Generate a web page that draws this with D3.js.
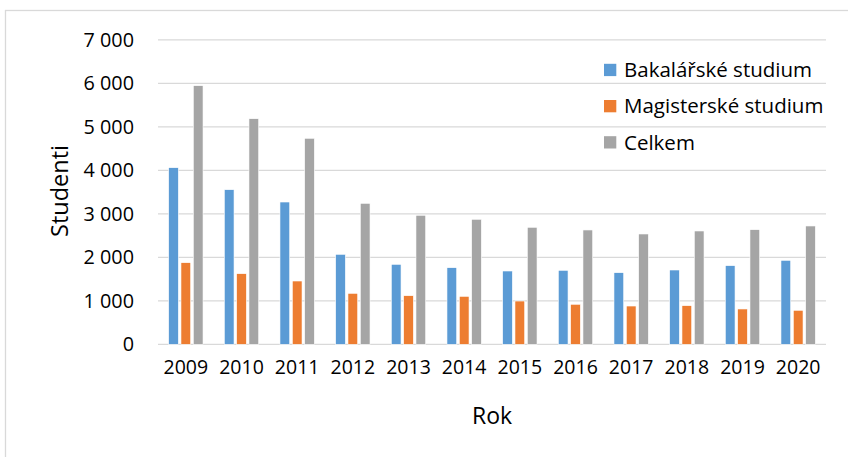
<!DOCTYPE html>
<html>
<head>
<meta charset="utf-8">
<script src="https://cdn.jsdelivr.net/npm/d3@7"></script>
<style>
  html, body { margin: 0; padding: 0; background: #fff; }
  svg { display: block; }
  text { font-family: "Open Sans", "Noto Sans", sans-serif; fill: #000; }
</style>
</head>
<body>
<svg id="chart" width="848" height="457"></svg>
<script>
// Počty studentů podle typu studia
const years = ["2009", "2010", "2011", "2012", "2013", "2014", "2015", "2016", "2017", "2018", "2019", "2020"];
const bakalarske = [4060, 3554, 3271, 2069, 1839, 1761, 1685, 1701, 1646, 1708, 1808, 1931];
const magisterske = [1876, 1623, 1455, 1172, 1117, 1103, 995, 920, 880, 888, 812, 782];
const celkem = [5945, 5186, 4736, 3241, 2966, 2874, 2690, 2628, 2536, 2605, 2635, 2720];
const seriesNames = ["Bakalářské studium", "Magisterské studium", "Celkem"];
const seriesColors = ["#5B9BD5", "#ED7D31", "#A5A5A5"];
const yTicks = [0, 1000, 2000, 3000, 4000, 5000, 6000, 7000];

const seriesValues = [bakalarske, magisterske, celkem];

const svg = d3.select("#chart");

// rámeček oblasti grafu
svg.append("rect")
  .attr("x", 5.5).attr("y", 10.5)
  .attr("width", 900).attr("height", 500)
  .attr("fill", "none").attr("stroke", "#D9D9D9").attr("stroke-width", 1.3);

const plot = { left: 158, right: 826, top: 39.8, bottom: 344.3 };

const x0 = d3.scaleBand()
  .domain(years)
  .range([plot.left, plot.right])
  .paddingInner(0.382)
  .paddingOuter(0.191);

const x1 = d3.scaleBand()
  .domain(seriesNames)
  .range([0, x0.bandwidth()])
  .paddingInner(0.21)
  .paddingOuter(0);

const y = d3.scaleLinear()
  .domain([0, 7000])
  .range([plot.bottom, plot.top]);

const fmt = d3.formatLocale({ decimal: ",", thousands: "\u00a0", grouping: [3], currency: ["", ""] }).format(",d");

// mřížka
svg.append("g")
  .selectAll("line")
  .data(yTicks)
  .join("line")
  .attr("x1", plot.left).attr("x2", plot.right)
  .attr("y1", d => y(d)).attr("y2", d => y(d))
  .attr("stroke", "#D9D9D9").attr("stroke-width", 1.3);

// osa Y
const yAxis = svg.append("g")
  .attr("transform", `translate(${plot.left},0)`)
  .call(d3.axisLeft(y).tickValues(yTicks).tickFormat(fmt).tickSize(0).tickPadding(24));
yAxis.select(".domain").remove();
yAxis.selectAll("text")
  .style("font-family", "'Open Sans', sans-serif")
  .style("font-size", "19.8px")
  .attr("fill", "#000");

// sloupce
const groups = svg.append("g")
  .selectAll("g")
  .data(years)
  .join("g")
  .attr("transform", d => `translate(${x0(d)},0)`);

groups.selectAll("rect")
  .data((d, i) => seriesNames.map((name, s) => ({ name, value: seriesValues[s][i], color: seriesColors[s] })))
  .join("rect")
  .attr("x", d => x1(d.name))
  .attr("width", x1.bandwidth())
  .attr("y", d => y(d.value))
  .attr("height", d => y(0) - y(d.value))
  .attr("fill", d => d.color)
  .attr("stroke", "#fff")
  .attr("stroke-width", 0.6);

// osa X
const xAxis = svg.append("g")
  .attr("transform", `translate(0,${plot.bottom})`)
  .call(d3.axisBottom(x0).tickSize(0).tickPadding(16));
xAxis.select(".domain").remove();
xAxis.selectAll("text")
  .style("font-family", "'Open Sans', sans-serif")
  .style("font-size", "19.5px")
  .attr("fill", "#000");

// názvy os
svg.append("text")
  .attr("x", (plot.left + plot.right) / 2)
  .attr("y", 423.5)
  .attr("text-anchor", "middle")
  .style("font-size", "23px")
  .text("Rok");

svg.append("text")
  .attr("transform", `translate(68,191) rotate(-90)`)
  .attr("text-anchor", "middle")
  .style("font-size", "23.5px")
  .text("Studenti");

// legenda
const legend = svg.append("g")
  .selectAll("g")
  .data(seriesNames)
  .join("g")
  .attr("transform", (d, i) => `translate(604,${70 + i * 36.2})`);

legend.append("rect")
  .attr("x", 0).attr("y", -6.2)
  .attr("width", 12.3).attr("height", 12.3)
  .attr("fill", (d, i) => seriesColors[i]);

legend.append("text")
  .attr("x", 20)
  .attr("y", 0)
  .attr("dy", "0.35em")
  .style("font-size", "20.5px")
  .text(d => d);
</script>
</body>
</html>
